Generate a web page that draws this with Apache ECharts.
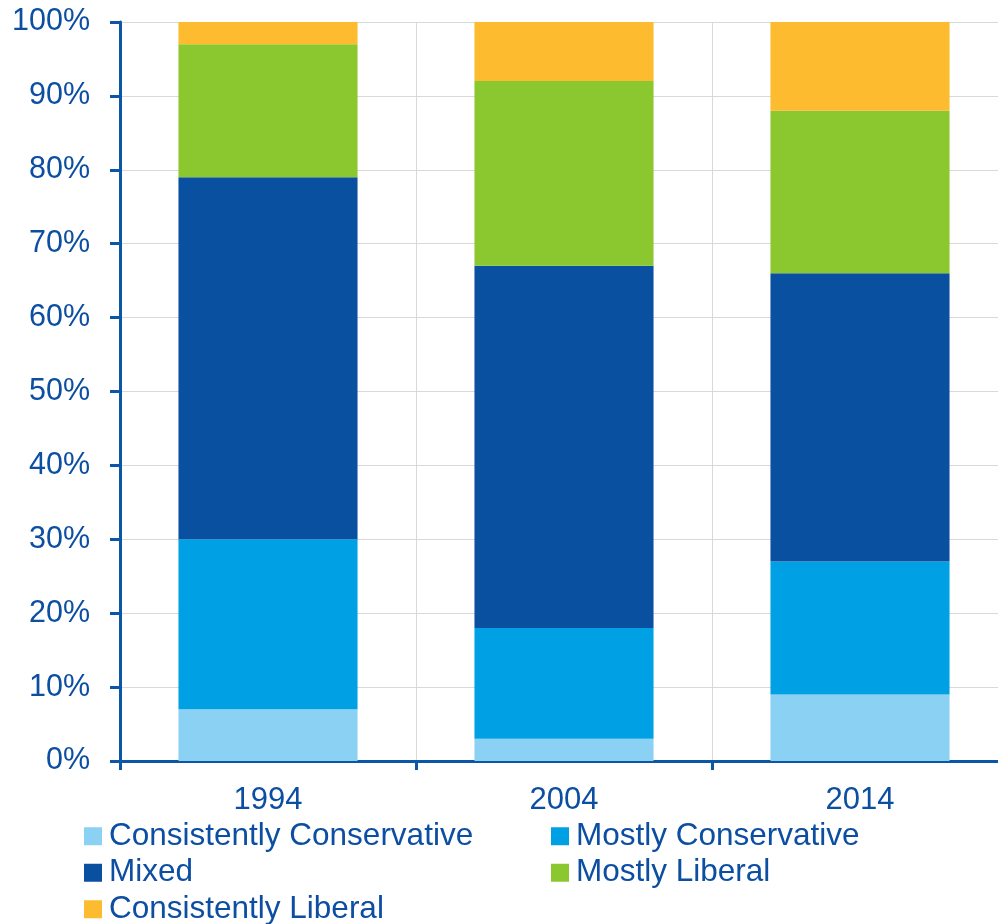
<!DOCTYPE html>
<html>
<head>
<meta charset="utf-8">
<script src="https://cdn.jsdelivr.net/npm/echarts@6/dist/echarts.min.js"></script>
<style>html,body{margin:0;padding:0;background:#fff;overflow:hidden;width:998px;height:924px;}#chart{width:1008px;height:924px;}</style>
</head>
<body>
<div id="chart"></div>
<script>
const categories = ['1994', '2004', '2014'];
const consistentlyConservative = [7, 3, 9];
const mostlyConservative = [23, 15, 18];
const mixed = [49, 49, 39];
const mostlyLiberal = [18, 25, 22];
const consistentlyLiberal = [3, 8, 12];
const seriesNames = ['Consistently Conservative', 'Mostly Conservative', 'Mixed', 'Mostly Liberal', 'Consistently Liberal'];
const seriesData = [consistentlyConservative, mostlyConservative, mixed, mostlyLiberal, consistentlyLiberal];
const colors = ['#8bd1f3', '#00a0e4', '#0a50a1', '#8bc82f', '#fdbb30'];

const textColor = '#0b4ea2';
const font = 'Liberation Sans, Arial, sans-serif';
const chart = echarts.init(document.getElementById('chart'));
const legendText = { color: textColor, fontSize: 31.5, fontFamily: font, lineHeight: 36.5, padding: [0, 0, 0, 2] };
const legendBase = { orient: 'vertical', itemWidth: 18, itemHeight: 18, itemGap: 0, icon: 'rect', textStyle: legendText, padding: 0, height: 80 };
chart.setOption({
  animation: false,
  grid: { left: 120, right: 0, top: 22, bottom: 163, containLabel: false },
  legend: [
    Object.assign({ left: 84, top: 818, data: [seriesNames[0], seriesNames[2]] }, legendBase),
    Object.assign({ left: 84, top: 891, data: [seriesNames[4]] }, legendBase),
    Object.assign({ left: 551, top: 818, data: [seriesNames[1], seriesNames[3]] }, legendBase)
  ],
  xAxis: {
    type: 'category', data: categories,
    axisLine: { lineStyle: { color: '#0b56a6', width: 3 } },
    axisTick: { show: true, length: 9, lineStyle: { color: '#0b56a6', width: 3 } },
    axisLabel: { color: textColor, fontSize: 31, fontFamily: font, margin: 24 },
    splitLine: { show: true, lineStyle: { color: '#d9d9d9', width: 1 } }
  },
  yAxis: {
    type: 'value', min: 0, max: 100, interval: 10,
    axisLine: { show: true, lineStyle: { color: '#0b56a6', width: 3 } },
    axisTick: { show: true, length: 10, lineStyle: { color: '#0b56a6', width: 3 } },
    axisLabel: { color: textColor, fontSize: 30.5, fontFamily: font, margin: 30, formatter: '{value}%' },
    splitLine: { show: true, lineStyle: { color: '#d9d9d9', width: 1 } }
  },
  series: seriesNames.map((n, i) => ({
    name: n, type: 'bar', stack: 'total', barWidth: '60.5%',
    itemStyle: { color: colors[i] },
    data: seriesData[i]
  }))
});
</script>
</body>
</html>
